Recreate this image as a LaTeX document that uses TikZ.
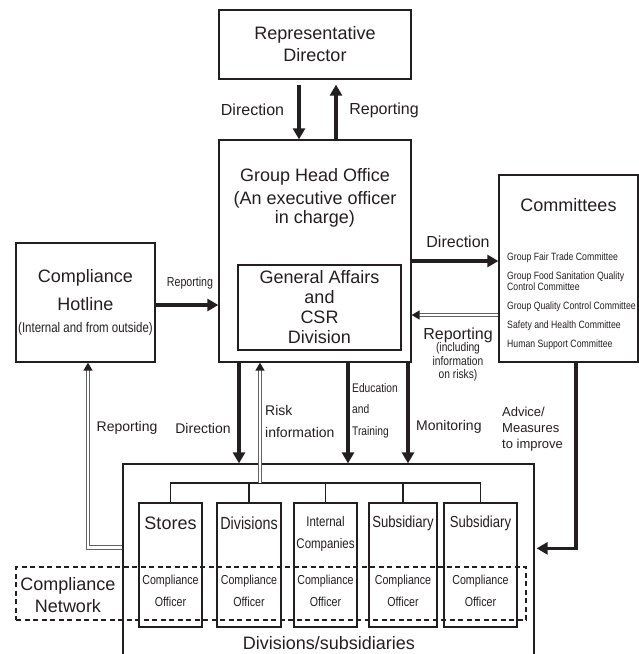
\documentclass[tikz,border=0pt]{standalone}
\usepackage{fontspec}
\setmainfont{Liberation Sans}
\newfontfamily\narrowfont[FakeStretch=0.82]{Liberation Sans}
\usetikzlibrary{arrows.meta, positioning, calc}
\definecolor{ink}{HTML}{231F20}

\begin{document}
\begin{tikzpicture}[x=1pt, y=-1pt,
  box/.style={draw=ink, line width=1.3pt, rectangle, inner sep=0pt, text=ink},
  big/.style={font=\fontsize{18}{20}\selectfont, align=center, text=ink, inner sep=0pt},
  lbl/.style={font=\fontsize{16}{20}\selectfont, align=left, text=ink, inner sep=0pt},
  lblsmall/.style={font=\fontsize{14}{22}\selectfont, align=left, text=ink, inner sep=0pt},
  narrow/.style={font={\narrowfont\fontsize{12.5}{13.5}\selectfont}, align=center, text=ink, inner sep=0pt},
  unitname/.style={font={\narrowfont\fontsize{16}{22}\selectfont}, align=center, text=ink, inner sep=0pt},
  officer/.style={font={\narrowfont\fontsize{13}{22}\selectfont}, align=center, text=ink, inner sep=0pt},
  bigarrow/.style={draw=ink, line width=3.6pt, -{Triangle[length=11pt, width=12pt]}},
  dblarrow/.style={draw=white, line width=1.5pt, -{Triangle[color=ink, length=8pt, width=9pt]},
    preaction={draw=ink!70, double=white, double distance=2.5pt, line width=1.1pt, shorten >=6pt, -}},
  busline/.style={draw=ink, line width=1.2pt},
  network/.style={draw=ink, dash pattern=on 5pt off 3.5pt, line width=1.1pt, inner sep=0pt}
]
  \useasboundingbox (0,0) rectangle (639,654);
  \clip (0,0) rectangle (639,654);

  % Main boxes
  \node[box, big, font=\fontsize{18}{22}\selectfont, minimum width=192pt, minimum height=69pt] (rep) at (315,44.5) {Representative\\Director};
  \node[box, minimum width=192pt, minimum height=222pt] (gho) at (315,251) {};
  \node[big, font=\fontsize{18}{19}\selectfont] (ghotitle) at (315,198) {Group Head Office\\[4pt](An executive officer\\in charge)};
  \node[box, big, minimum width=163pt, minimum height=85pt] (ga) at (319.5,307.5) {General Affairs\\and\\CSR\\Division};
  \node[box, minimum width=139pt, minimum height=187pt] (comm) at (568.5,268.5) {};
  \node[big] (commtitle) at (568.5,205) {Committees};
  \node[narrow, font={\narrowfont\fontsize{10.6}{11}\selectfont}, align=left, anchor=west] (commlist) at (507,301)
    {Group Fair Trade Committee\\[8pt]Group Food Sanitation Quality\\Control Committee\\[8pt]Group Quality Control Committee\\[8pt]Safety and Health Committee\\[8pt]Human Support Committee};
  \node[box, big, minimum width=139pt, minimum height=119pt] (hot) at (85.5,302.5)
    {Compliance\\[8pt]Hotline\\[2pt]{\narrowfont\fontsize{14}{16}\selectfont (Internal and from outside)}};

  % Divisions and subsidiaries
  \node[box, minimum width=411pt, minimum height=200pt] (cont) at (328.5,564) {};
  \node[big] (contlabel) at (329,643) {Divisions/subsidiaries};
  \node[box, minimum width=63pt, minimum height=124pt] (stores) at (170.5,565) {};
  \node[box, minimum width=64pt, minimum height=124pt] (divs) at (249,565) {};
  \node[box, minimum width=63pt, minimum height=124pt] (internal) at (325.5,565) {};
  \node[box, minimum width=68pt, minimum height=124pt] (subA) at (403,565) {};
  \node[box, minimum width=73pt, minimum height=124pt] (subB) at (480.5,565) {};
  \node[big] (storesname) at (170.5,523) {Stores};
  \node[unitname, font={\narrowfont\fontsize{17.5}{22}\selectfont}] (divsname) at (249,523) {Divisions};
  \node[unitname, font={\narrowfont\fontsize{14}{22}\selectfont}] (internalname) at (325.5,534) {Internal\\Companies};
  \node[unitname] (subAname) at (403,523) {Subsidiary};
  \node[unitname] (subBname) at (480.5,523) {Subsidiary};
  \foreach \u in {stores,divs,internal,subA,subB}
    \node[officer] (off\u) at ([yshift=-26pt]\u.center) {Compliance\\Officer};

  % Tree lines
  \coordinate (bus) at (0,483);
  \draw[busline] (stores.north) -- (stores.north |- bus) -- (subB.north |- bus) -- (subB.north);
  \foreach \u in {divs,internal,subA}
    \draw[busline] (\u.north) -- (\u.north |- bus);

  % Compliance network
  \node[network, minimum width=510pt, minimum height=53pt] (net) at (271,593.5) {};
  \node[big, font=\fontsize{18}{22}\selectfont] (netlabel) at (68,595) {Compliance\\Network};

  % Arrows
  \draw[bigarrow, shorten <=5pt] ([xshift=-16pt]rep.south) -- ([xshift=-16pt]gho.north);
  \draw[bigarrow, shorten >=5pt] ([xshift=21pt]gho.north) -- ([xshift=21pt]rep.south);
  \draw[bigarrow] ([yshift=-10pt]gho.east) -- ([yshift=-10pt]gho.east -| comm.west);
  \draw[dblarrow] ([yshift=-64pt]gho.east -| comm.west) -- ([yshift=-64pt]gho.east);
  \draw[bigarrow] ([yshift=-2.5pt]hot.east) -- ([yshift=-2.5pt]hot.east -| gho.west);
  \draw[bigarrow] ([xshift=-76pt]gho.south) -- ([xshift=-76pt]gho.south |- cont.north);
  \draw[dblarrow] ([xshift=-55pt]gho.south |- bus) -- ([xshift=-55pt]gho.south);
  \draw[bigarrow] ([xshift=33pt]gho.south) -- ([xshift=33pt]gho.south |- cont.north);
  \draw[bigarrow] ([xshift=93pt]gho.south) -- ([xshift=93pt]gho.south |- cont.north);
  \draw[bigarrow, shorten >=2pt] ([xshift=7.5pt]comm.south) |- ([yshift=-85pt]cont.north east);
  \draw[dblarrow] ([yshift=-84pt]cont.north west) -| ([xshift=2.5pt]hot.south);

  % Arrow labels
  \node[lbl] (dirtop) at (252.5,110) {Direction};
  \node[lbl] (reptop) at (384,110) {Reporting};
  \node[lbl] (dircomm) at (458,242) {Direction};
  \node[lbl] (repcomm) at (458,335) {Reporting};
  \node[narrow] (repnote) at (458,362) {(including\\information\\on risks)};
  \node[narrow, font={\narrowfont\fontsize{13}{16}\selectfont}] (hotrep) at (190,283) {Reporting};
  \node[lblsmall] (reploop) at (127,428) {Reporting};
  \node[lblsmall] (dirdown) at (203,428) {Direction};
  \node[lblsmall, anchor=west] (risklbl) at (265,421) {Risk\\information};
  \node[narrow, font={\narrowfont\fontsize{12.5}{21.5}\selectfont}, align=left, anchor=west] (edulbl) at (352,410.5) {Education\\and\\Training};
  \node[lblsmall, anchor=west] (monlbl) at (416,427) {Monitoring};
  \node[lblsmall, font=\fontsize{13}{16}\selectfont, anchor=west] (advlbl) at (502,429) {Advice/\\Measures\\to improve};
\end{tikzpicture}
\end{document}
